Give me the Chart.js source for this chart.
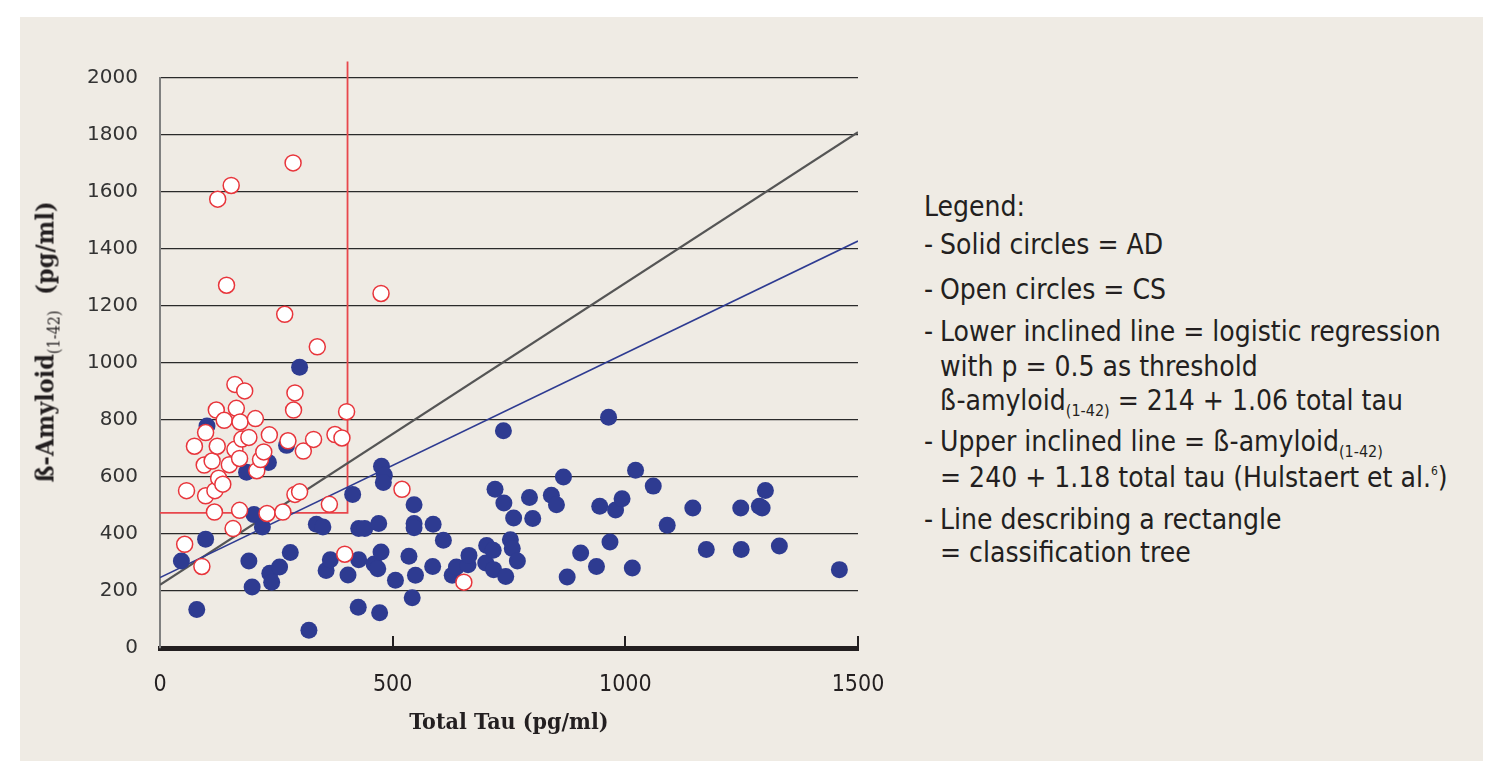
<!DOCTYPE html>
<html>
<head>
<meta charset="utf-8">
<title>Total Tau vs ß-Amyloid(1-42)</title>
<script src="https://cdn.jsdelivr.net/npm/chart.js@4.4.1/dist/chart.umd.min.js"></script>
<style>
  html, body { margin: 0; padding: 0; background: #fff; width: 1502px; height: 761px; overflow: hidden; }
  .card { position: absolute; left: 20px; top: 17px; width: 1463px; height: 744px; background: #efebe4; }
  #wrap { position: absolute; left: 0; top: 0; width: 900px; height: 761px; }
  #ytitle {
    position: absolute; left: 47px; top: 342px;
    transform: translate(-50%, -50%) rotate(-90deg);
    white-space: nowrap; color: #231f20;
    font: bold 25px "DejaVu Serif Condensed", "DejaVu Serif", serif;
  }
  #ytitle sub { font-weight: normal; font-size: 16px; }
  .lg {
    position: absolute; left: 924px; white-space: nowrap; color: #231f20;
    font: 28px "Liberation Sans Narrow", "DejaVu Sans Condensed", sans-serif;
    line-height: 30px;
  }
  .lg.ind { left: 940px; }
  .lg .d { display: inline-block; width: 16px; }
  .lg sub { font-size: 16px; vertical-align: -6px; line-height: 0; }
  .lg sup { font-size: 12px; vertical-align: 12px; line-height: 0; }
</style>
</head>
<body>
<div class="card"></div>
<div id="wrap"><canvas id="chart" width="900" height="761"></canvas></div>
<div id="ytitle">ß-Amyloid<sub>(1-42)</sub>&nbsp; (pg/ml)</div>

<div class="lg" style="top:192px">Legend:</div>
<div class="lg" style="top:230px"><span class="d">-</span>Solid circles = AD</div>
<div class="lg" style="top:275px"><span class="d">-</span>Open circles = CS</div>
<div class="lg" style="top:317px"><span class="d">-</span>Lower inclined line = logistic regression</div>
<div class="lg ind" style="top:352px">with p = 0.5 as threshold</div>
<div class="lg ind" style="top:386px">ß-amyloid<sub>(1-42)</sub> = 214 + 1.06 total tau</div>
<div class="lg" style="top:427px"><span class="d">-</span>Upper inclined line = ß-amyloid<sub>(1-42)</sub></div>
<div class="lg ind" style="top:463px">= 240 + 1.18 total tau (Hulstaert et al.<sup>6</sup>)</div>
<div class="lg" style="top:505px"><span class="d">-</span>Line describing a rectangle</div>
<div class="lg ind" style="top:538px">= classification tree</div>

<script>
  // axis ticks
  const xTickValues = [0, 500, 1000, 1500];
  const yTickValues = [0, 200, 400, 600, 800, 1000, 1200, 1400, 1600, 1800, 2000];

  // [total tau, ß-amyloid]
  const adPoints = [
    [46, 305], [79, 135], [98, 382], [101, 779], [186, 617], [191, 305], [198, 214], [202, 468],
    [220, 425], [233, 651], [236, 262], [240, 231], [257, 284], [272, 711], [280, 335], [300, 985],
    [320, 62], [336, 434], [350, 425], [357, 272], [366, 310], [404, 256], [414, 539], [426, 143],
    [427, 310], [427, 419], [440, 419], [460, 295], [470, 437], [468, 278], [472, 124], [475, 337],
    [476, 638], [482, 606], [480, 581], [506, 238], [535, 322], [542, 176], [546, 503], [546, 437],
    [546, 422], [549, 255], [586, 286], [587, 434], [609, 378], [628, 255], [637, 284], [662, 292],
    [664, 325], [700, 298], [702, 360], [716, 343], [717, 275], [720, 557], [738, 762], [739, 509],
    [743, 251], [753, 380], [757, 349], [760, 456], [768, 305], [794, 528], [801, 454], [841, 536],
    [852, 503], [867, 600], [875, 249], [904, 333], [938, 286], [945, 497], [964, 810], [967, 372],
    [979, 484], [993, 524], [1015, 281], [1022, 624], [1060, 568], [1090, 431], [1145, 491], [1174, 346],
    [1248, 491], [1249, 346], [1288, 497], [1294, 491], [1301, 553], [1331, 358], [1460, 275]
  ];

  const csPoints = [
    [53, 364], [57, 552], [74, 708], [90, 286], [95, 642], [98, 756], [98, 534], [112, 656],
    [117, 477], [118, 552], [121, 835], [123, 708], [124, 1575], [126, 596], [135, 575], [138, 799],
    [143, 1273], [149, 643], [153, 1623], [157, 419], [161, 925], [161, 697], [164, 841], [171, 665],
    [171, 483], [172, 793], [176, 733], [182, 902], [191, 739], [205, 805], [208, 622], [216, 661],
    [223, 688], [230, 472], [235, 748], [264, 477], [268, 1171], [275, 727], [286, 1702], [287, 835],
    [290, 895], [290, 539], [300, 548], [308, 691], [330, 732], [338, 1057], [364, 504], [376, 749],
    [391, 737], [397, 329], [401, 829], [475, 1244], [520, 557], [653, 231]
  ];

  const greyLine = [[0, 222], [1500, 1810]];
  const blueLine = [[0, 247], [1500, 1428]];
  const treeRect = [[0, 474], [403, 474], [403, 2058]];

  const toXY = (arr) => arr.map(([x, y]) => ({ x, y }));

  new Chart(document.getElementById('chart'), {
    type: 'scatter',
    data: {
      datasets: [
        {
          label: 'CS', data: toXY(csPoints), order: 0,
          pointRadius: 8, pointBackgroundColor: '#ffffff',
          pointBorderColor: '#e8353b', pointBorderWidth: 1.5
        },
        {
          label: 'AD', data: toXY(adPoints), order: 1,
          pointRadius: 8.5, pointBackgroundColor: '#2e3b91', pointBorderWidth: 0
        },
        {
          label: 'Logistic regression', data: toXY(blueLine), order: 2,
          showLine: true, pointRadius: 0, borderColor: '#2e3b91', borderWidth: 1.6
        },
        {
          label: 'Hulstaert', data: toXY(greyLine), order: 2,
          showLine: true, pointRadius: 0, borderColor: '#555555', borderWidth: 2.2
        },
        {
          label: 'Classification tree', data: toXY(treeRect), order: 2, clip: false,
          showLine: true, pointRadius: 0, borderColor: '#e8474c', borderWidth: 1.8
        }
      ]
    },
    options: {
      responsive: false,
      animation: false,
      layout: { padding: { left: 0, top: 78, right: 42, bottom: 0 } },
      plugins: { legend: { display: false }, tooltip: { enabled: false } },
      scales: {
        x: {
          type: 'linear', min: 0, max: 1500,
          afterBuildTicks: (s) => { s.ticks = xTickValues.map((v) => ({ value: v })); },
          afterFit: (s) => { s.height = 113; s.paddingLeft = 0; s.paddingRight = 0; },
          grid: { drawOnChartArea: false, drawTicks: true, tickLength: -12, color: '#231f20', lineWidth: 2 },
          border: { color: '#231f20', width: 5 },
          ticks: {
            padding: 35, color: '#231f20',
            callback: (v) => String(v),
            font: { family: '"Liberation Sans Narrow", "DejaVu Sans Condensed", sans-serif', size: 23 }
          },
          title: {
            display: true, text: 'Total Tau (pg/ml)', color: '#231f20',
            font: { family: '"DejaVu Serif Condensed", "DejaVu Serif", serif', size: 23, weight: 'bold' },
            padding: { top: 0, bottom: 24 }
          }
        },
        y: {
          type: 'linear', min: 0, max: 2000,
          afterBuildTicks: (s) => { s.ticks = yTickValues.map((v) => ({ value: v })); },
          afterFit: (s) => { s.width = 160; },
          grid: { color: '#2a2a2a', lineWidth: 1.2, drawTicks: false },
          border: { color: '#808080', width: 2 },
          ticks: {
            padding: 22, color: '#333333',
            callback: (v) => String(v),
            font: { family: '"DejaVu Sans", sans-serif', size: 20 }
          }
        }
      }
    }
  });
</script>
</body>
</html>
